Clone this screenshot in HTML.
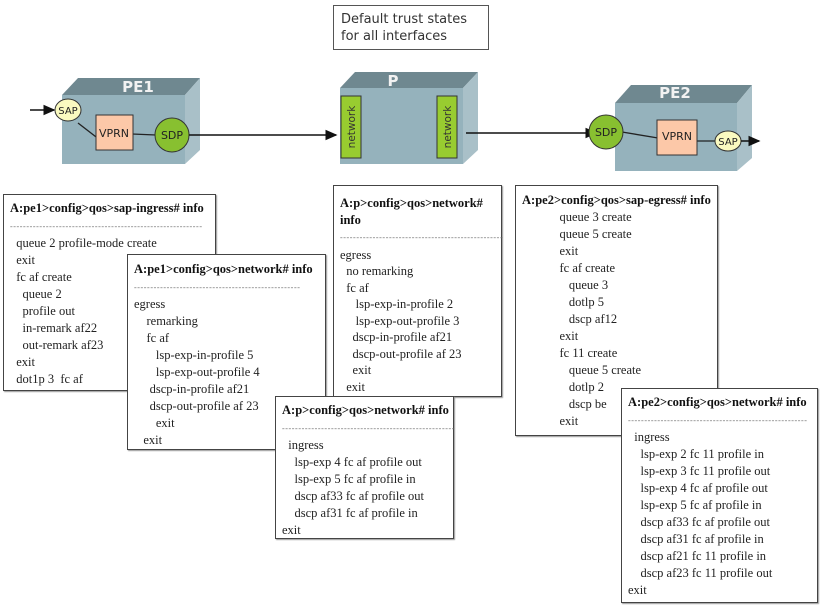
<!DOCTYPE html>
<html><head><meta charset="utf-8"><style>
body{margin:0;width:820px;height:606px;background:#fff;position:relative;overflow:hidden;font-family:"Liberation Serif",serif;}
.b{position:absolute;background:#fff;border:1px solid #444;box-shadow:1px 1px 1px #999;font-size:12.5px;line-height:17px;color:#222;white-space:pre;box-sizing:border-box;padding:0 0 0 6px}
.h{font-weight:bold;color:#111}
.d{font-size:8px;letter-spacing:0.6px;color:#666}
svg{position:absolute;left:0;top:0}
</style></head><body>
<svg width="820" height="606" font-family="DejaVu Sans, sans-serif">
<defs><marker id="a" markerWidth="8" markerHeight="8" refX="7" refY="4" orient="auto"><path d="M0,0.5L8,4L0,7.5z" fill="#111"/></marker></defs>
<polygon points="62,95 78,78 200,78 185,95" fill="#6f8890"/>
<polygon points="185,95 200,78 200,150 185,164" fill="#a9c0c8"/>
<rect x="62" y="95" width="123" height="69" fill="#95b2bc"/>
<text x="138" y="92" font-size="15" font-weight="bold" fill="#f2f2f2" text-anchor="middle">PE1</text>
<line x1="30" y1="110" x2="54" y2="110" stroke="#111" stroke-width="1.5" marker-end="url(#a)"/>
<line x1="78" y1="123" x2="100" y2="140" stroke="#222" stroke-width="1.3"/>
<line x1="132" y1="134" x2="156" y2="135" stroke="#222" stroke-width="1.3"/>
<rect x="96" y="115" width="37" height="35" fill="#fcc8a8" stroke="#333"/>
<text x="114" y="137" font-size="11" text-anchor="middle" fill="#222">VPRN</text>
<ellipse cx="68" cy="110" rx="13" ry="11" fill="#fafac0" stroke="#333"/>
<text x="68" y="114" font-size="10" text-anchor="middle" fill="#222">SAP</text>
<circle cx="172" cy="135" r="17" fill="#88c030" stroke="#333"/>
<text x="172" y="139" font-size="11" text-anchor="middle" fill="#222">SDP</text>
<line x1="189" y1="135" x2="336" y2="135" stroke="#111" stroke-width="1.5" marker-end="url(#a)"/>
<polygon points="340,88 355,72 478,72 463,88" fill="#6f8890"/>
<polygon points="463,88 478,72 478,150 463,164" fill="#a9c0c8"/>
<rect x="340" y="88" width="123" height="76" fill="#95b2bc"/>
<text x="393" y="86" font-size="15" font-weight="bold" fill="#f2f2f2" text-anchor="middle">P</text>
<rect x="341" y="96" width="20" height="62" fill="#98cc30" stroke="#333"/>
<text transform="translate(355,127) rotate(-90)" font-size="10.5" text-anchor="middle" fill="#333">network</text>
<rect x="437" y="96" width="20" height="62" fill="#98cc30" stroke="#333"/>
<text transform="translate(451,127) rotate(-90)" font-size="10.5" text-anchor="middle" fill="#333">network</text>
<line x1="466" y1="133" x2="596" y2="133" stroke="#111" stroke-width="1.5" marker-end="url(#a)"/>
<polygon points="615,103 631,85 752,85 737,103" fill="#6f8890"/>
<polygon points="737,103 752,85 752,158 737,171" fill="#a9c0c8"/>
<rect x="615" y="103" width="122" height="68" fill="#95b2bc"/>
<text x="675" y="98" font-size="15" font-weight="bold" fill="#f2f2f2" text-anchor="middle">PE2</text>
<line x1="622" y1="132" x2="658" y2="138" stroke="#222" stroke-width="1.3"/>
<line x1="696" y1="141" x2="716" y2="141" stroke="#222" stroke-width="1.3"/>
<rect x="657" y="120" width="40" height="35" fill="#fcc8a8" stroke="#333"/>
<text x="677" y="140" font-size="11" text-anchor="middle" fill="#222">VPRN</text>
<circle cx="606" cy="132" r="17" fill="#88c030" stroke="#333"/>
<text x="606" y="136" font-size="11" text-anchor="middle" fill="#222">SDP</text>
<ellipse cx="728" cy="141" rx="13" ry="10" fill="#fafac0" stroke="#333"/>
<text x="728" y="145" font-size="10" text-anchor="middle" fill="#222">SAP</text>
<line x1="741" y1="141" x2="759" y2="141" stroke="#111" stroke-width="1.5" marker-end="url(#a)"/>
<rect x="333.5" y="5.5" width="155" height="44" fill="#fff" stroke="#555"/>
<text x="341" y="23" font-size="13" fill="#333">Default trust states</text>
<text x="341" y="40" font-size="13" fill="#333">for all interfaces</text>
</svg>

<div class="b" style="left:3px;top:194px;width:213px;height:197px;padding-top:5px"><span class="h">A:pe1&gt;config&gt;qos&gt;sap-ingress# info</span>
<span class="d">-----------------------------------------------------------</span>
  queue 2 profile-mode create
  exit
  fc af create
    queue 2
    profile out
    in-remark af22
    out-remark af23
  exit
  dot1p 3  fc af</div>

<div class="b" style="left:127px;top:254px;width:199px;height:196px;padding-top:6px"><span class="h">A:pe1&gt;config&gt;qos&gt;network# info</span>
<span class="d">---------------------------------------------------</span>
egress
    remarking
    fc af
       lsp-exp-in-profile 5
       lsp-exp-out-profile 4
     dscp-in-profile af21
     dscp-out-profile af 23
       exit
   exit</div>

<div class="b" style="left:333px;top:185px;width:169px;height:212px;padding-top:9px;line-height:16.5px"><span class="h">A:p&gt;config&gt;qos&gt;network#
info</span>
<span class="d">--------------------------------------------------</span>
egress
  no remarking
  fc af
     lsp-exp-in-profile 2
     lsp-exp-out-profile 3
    dscp-in-profile af21
    dscp-out-profile af 23
    exit
  exit</div>

<div class="b" style="left:275px;top:396px;width:179px;height:143px;padding-top:5px"><span class="h">A:p&gt;config&gt;qos&gt;network# info</span>
<span class="d">-----------------------------------------------------</span>
  ingress
    lsp-exp 4 fc af profile out
    lsp-exp 5 fc af profile in
    dscp af33 fc af profile out
    dscp af31 fc af profile in
exit</div>

<div class="b" style="left:515px;top:185px;width:203px;height:251px;padding-top:6px"><span class="h">A:pe2&gt;config&gt;qos&gt;sap-egress# info</span>
            queue 3 create
            queue 5 create
            exit
            fc af create
               queue 3
               dotlp 5
               dscp af12
            exit
            fc 11 create
               queue 5 create
               dotlp 2
               dscp be
            exit</div>

<div class="b" style="left:621px;top:388px;width:197px;height:215px;padding-top:5px"><span class="h">A:pe2&gt;config&gt;qos&gt;network# info</span>
<span class="d">-------------------------------------------------------</span>
  ingress
    lsp-exp 2 fc 11 profile in
    lsp-exp 3 fc 11 profile out
    lsp-exp 4 fc af profile out
    lsp-exp 5 fc af profile in
    dscp af33 fc af profile out
    dscp af31 fc af profile in
    dscp af21 fc 11 profile in
    dscp af23 fc 11 profile out
exit</div>
</body></html>
